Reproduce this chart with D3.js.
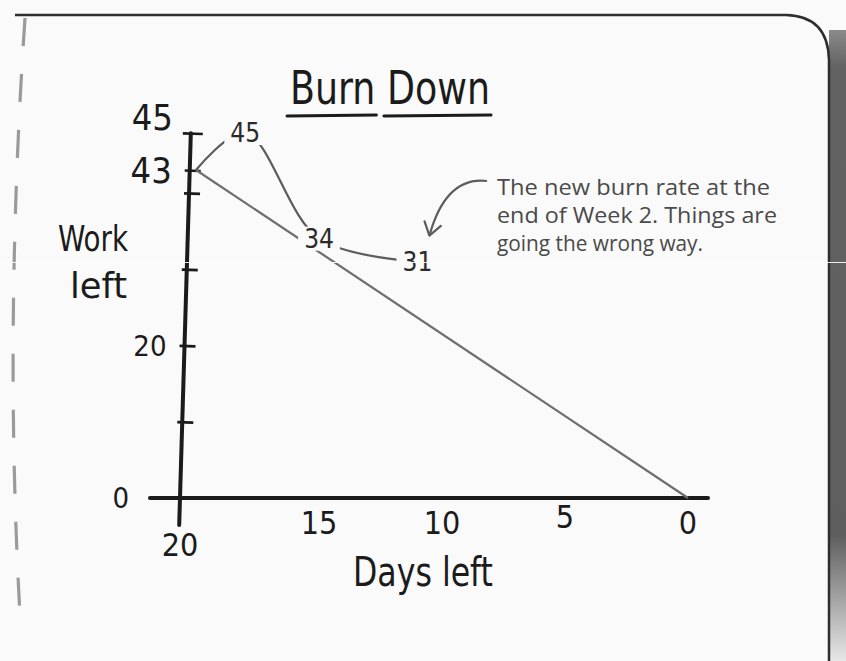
<!DOCTYPE html>
<html>
<head>
<meta charset="utf-8">
<script src="https://cdn.jsdelivr.net/npm/d3@7"></script>
<style>
  html, body { margin: 0; padding: 0; background: #fafafa; }
  svg { display: block; }
  .hand { font-family: "DejaVu Sans Condensed", "DejaVu Sans", sans-serif; }
  .note { font-family: "Open Sans", "Noto Sans", sans-serif; }
</style>
</head>
<body>
<svg id="chart" width="846" height="661"></svg>
<script>
// ---- data ---------------------------------------------------------------
const idealDays  = [20, 0];            // planned burn: all work gone by day 0
const idealWork  = [43, 0];
const actualDays = [20, 18, 15, 11];   // what really happened so far
const actualWork = [43, 45, 34, 31];
const yTickValues = [10, 20, 30, 40, 43, 45];
const yTickLabels = [45, 43, 20, 0];
const xTickLabels = [20, 15, 10, 5, 0];
const titleText  = "Burn Down";
const yTitleLines = ["Work", "left"];
const xTitleText = "Days left";
const noteLines = ["The new burn rate at the", "end of Week 2. Things are", "going the wrong way."];

// ---- setup ---------------------------------------------------------------
const W = 846, H = 661;
const svg = d3.select("#chart");
const ink = "#1b1b1b", pencil = "#5c5c5c", paper = "#fafafa";

// sketched axis: the top of the work axis is stretched a little
const x = d3.scaleLinear().domain([20, 0]).range([196, 688]);
const y = d3.scaleLinear().domain([0, 43, 45]).range([498, 170, 133]);

// ---- page frame ------------------------------------------------------------
const defs = svg.append("defs");
const shade = defs.append("linearGradient").attr("id", "shade")
  .attr("x1", 0).attr("y1", 0).attr("x2", 0).attr("y2", 1);
shade.append("stop").attr("offset", "0").attr("stop-color", "#8a8a8a");
shade.append("stop").attr("offset", "0.06").attr("stop-color", "#626262");
shade.append("stop").attr("offset", "0.8").attr("stop-color", "#5e5e5e");
shade.append("stop").attr("offset", "1").attr("stop-color", "#e8e8e8");

svg.append("rect").attr("width", W).attr("height", H).attr("fill", paper);
svg.append("rect").attr("x", 829).attr("y", 30).attr("width", W - 829).attr("height", H - 30)
  .attr("fill", "url(#shade)");
svg.append("path")
  .attr("d", "M15,15 L786,15 Q828,16 829,60 L829,661")
  .attr("fill", "none").attr("stroke", "#2e2e2e").attr("stroke-width", 2.5);
svg.append("path")
  .attr("d", "M25,18 Q4,330 20,615")
  .attr("fill", "none")
  .attr("stroke", "#9a9a9a").attr("stroke-width", 3.2).attr("stroke-dasharray", "28 28");

// ---- title -------------------------------------------------------------------
const title = svg.append("text").attr("class", "hand")
  .attr("x", 290).attr("y", 104)
  .attr("font-size", 46).attr("textLength", 200).attr("lengthAdjust", "spacingAndGlyphs")
  .attr("fill", ink).text(titleText);
{
  const node = title.node();
  let start = 0;
  titleText.split(" ").forEach(word => {
    const i = titleText.indexOf(word, start);
    start = i + word.length;
    const x0 = node.getStartPositionOfChar(i).x;
    const x1 = node.getEndPositionOfChar(i + word.length - 1).x;
    svg.append("line").attr("x1", x0 - 3).attr("x2", x1 + 1)
      .attr("y1", 116).attr("y2", 115)
      .attr("stroke", ink).attr("stroke-width", 3).attr("stroke-linecap", "round");
  });
}

// ---- axes --------------------------------------------------------------------
const tilt = 1.7;                       // the work axis leans slightly
const footX = 180;
const axisXAt = yy => footX + (y(0) - yy) * Math.tan(tilt * Math.PI / 180);

svg.append("line").attr("x1", 150).attr("x2", 708).attr("y1", y(0)).attr("y2", y(0))
  .attr("stroke", ink).attr("stroke-width", 4).attr("stroke-linecap", "round");

const yAxis = svg.append("g")
  .attr("transform", `translate(${footX},0) rotate(${tilt},0,${y(0)})`)
  .call(d3.axisRight(y).tickValues(yTickValues).tickSize(11).tickSizeOuter(0).tickFormat(""));
yAxis.select(".domain").remove();
yAxis.selectAll(".tick line")
  .attr("x1", d => d === 45 ? -8 : -5)
  .attr("x2", d => d === 45 ? 12 : 11)
  .attr("stroke", ink).attr("stroke-width", 2.6);
yAxis.append("line").attr("x1", 0).attr("x2", 0).attr("y1", y(0) + 27).attr("y2", y(45))
  .attr("stroke", ink).attr("stroke-width", 4).attr("stroke-linecap", "round");

// work-left labels
svg.append("g").selectAll("text").data(yTickLabels).join("text")
  .attr("class", "hand")
  .attr("x", d => d === 0 ? 129 : axisXAt(y(d)) - 18)
  .attr("y", d => y(d) - (d === 45 ? 16 : 0))
  .attr("dy", "0.36em")
  .attr("text-anchor", "end")
  .attr("font-size", d => d >= 43 ? 36 : 29)
  .attr("fill", ink).text(d => d);

// days-left labels
svg.append("g").selectAll("text").data(xTickLabels).join("text")
  .attr("class", "hand")
  .attr("x", d => d === 20 ? footX : x(d))
  .attr("y", d => d === 20 ? 556 : d === 5 ? 528 : 534)
  .attr("text-anchor", "middle")
  .attr("font-size", 32)
  .attr("fill", ink).text(d => d);

// axis titles
svg.append("text").attr("class", "hand")
  .attr("x", 58).attr("y", 251)
  .attr("font-size", 35).attr("textLength", 70).attr("lengthAdjust", "spacingAndGlyphs")
  .attr("fill", ink).text(yTitleLines[0]);
svg.append("text").attr("class", "hand")
  .attr("x", 70).attr("y", 298)
  .attr("font-size", 35).attr("textLength", 57).attr("lengthAdjust", "spacingAndGlyphs")
  .attr("fill", ink).text(yTitleLines[1]);
svg.append("text").attr("class", "hand")
  .attr("x", 353).attr("y", 586)
  .attr("font-size", 40).attr("textLength", 140).attr("lengthAdjust", "spacingAndGlyphs")
  .attr("fill", ink).text(xTitleText);

// ---- planned burn line ---------------------------------------------------
const ideal = idealDays.map((d, i) => [d, idealWork[i]]);
svg.append("path").datum(ideal)
  .attr("d", d3.line().x(d => x(d[0])).y(d => y(d[1])))
  .attr("fill", "none").attr("stroke", "#6e6e6e").attr("stroke-width", 2.2);

// ---- actual burn -------------------------------------------------------------
const actual = actualDays.map((d, i) => [d, actualWork[i]]);
svg.append("path").datum(actual)
  .attr("d", d3.line().x(d => x(d[0])).y(d => y(d[1])).curve(d3.curveCatmullRom.alpha(0.5)))
  .attr("fill", "none").attr("stroke", pencil).attr("stroke-width", 2.2);

// value labels sit on the curve, breaking it
const lab = svg.append("g").selectAll("g").data(actual.slice(1)).join("g")
  .attr("transform", d => `translate(${x(d[0])},${y(d[1])})`);
lab.append("rect").attr("fill", paper);
lab.append("text").attr("class", "hand")
  .attr("text-anchor", "middle").attr("dy", "0.36em")
  .attr("font-size", 26).attr("fill", "#2a2a2a").text(d => d[1]);
lab.each(function () {
  const g = d3.select(this);
  const b = g.select("text").node().getBBox();
  g.select("rect").attr("x", b.x - 6).attr("width", b.width + 12)
    .attr("y", -12).attr("height", 24);
});

// ---- note with arrow ---------------------------------------------------------
const noteWidths = [273, 280, 206];
svg.append("g").selectAll("text").data(noteLines).join("text")
  .attr("class", "note")
  .attr("x", 497).attr("y", (d, i) => 195 + i * 28)
  .attr("font-size", 21)
  .attr("textLength", (d, i) => noteWidths[i]).attr("lengthAdjust", "spacingAndGlyphs")
  .attr("fill", "#4a4a4a").text(d => d);

const last = actual[actual.length - 1];
const tip = [x(last[0]) + 12, y(last[1]) - 26];
const from = [487, 181], ctrl = [446, 176];
svg.append("path")
  .attr("d", `M${from}Q${ctrl} ${tip}`)
  .attr("fill", "none").attr("stroke", pencil).attr("stroke-width", 2.2);
{
  const ang = Math.atan2(ctrl[1] - tip[1], ctrl[0] - tip[0]);
  const arm = a => [tip[0] + 15 * Math.cos(ang + a), tip[1] + 15 * Math.sin(ang + a)];
  svg.append("path")
    .attr("d", `M${arm(0.6)}L${tip}L${arm(-0.6)}`)
    .attr("fill", "none").attr("stroke", pencil).attr("stroke-width", 2.2)
    .attr("stroke-linejoin", "round").attr("stroke-linecap", "round");
}

// faint scanner streak across the sheet
svg.append("line").attr("x1", 0).attr("x2", W).attr("y1", 262.5).attr("y2", 262.5)
  .attr("stroke", "#fdfdfd").attr("stroke-width", 1.2).attr("opacity", 0.9);
</script>
</body>
</html>
